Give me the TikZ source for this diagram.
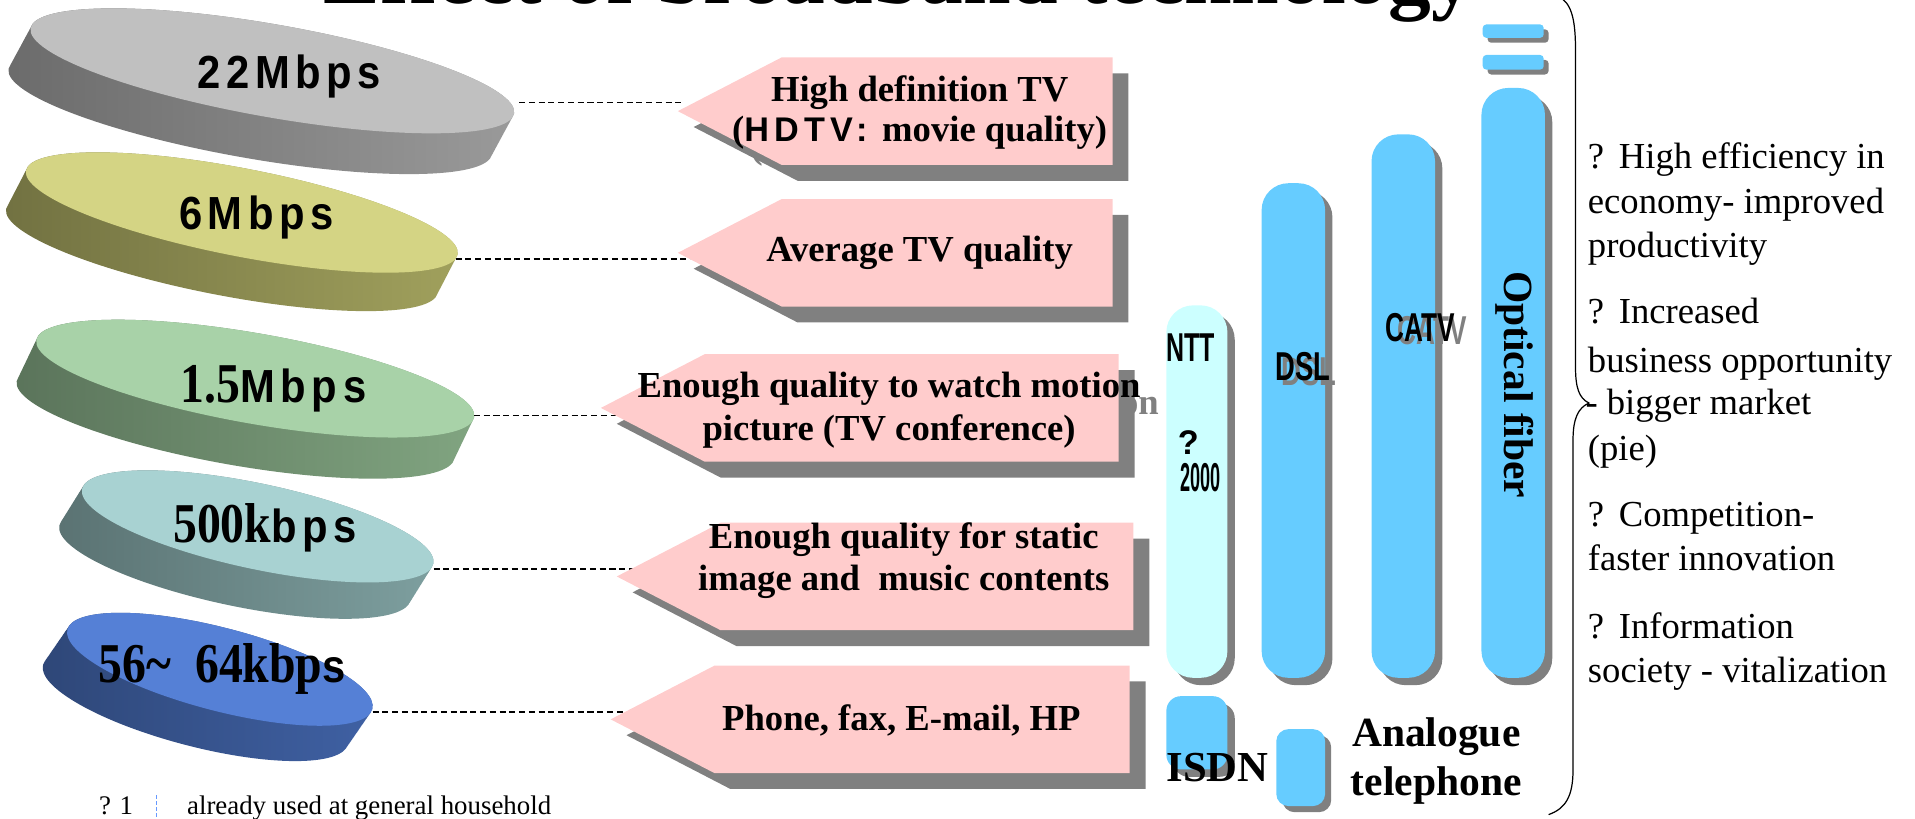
\documentclass[tikz,border=0pt]{standalone}
\usepackage{fontspec}
\usepackage{graphicx}
\setmainfont{Liberation Serif}
\newfontfamily\sansb{Liberation Sans}
\newfontfamily\discsans[FakeStretch=0.9,LetterSpace=12]{Liberation Sans}
\newfontfamily\discserif[FakeStretch=0.85]{Liberation Serif}
\newfontfamily\hdsans[LetterSpace=15]{Liberation Sans}

\definecolor{pinkbox}{HTML}{FFCCCC}
\definecolor{shadowgray}{HTML}{808080}
\definecolor{barblue}{HTML}{66CCFF}
\definecolor{barpale}{HTML}{CCFFFF}
\definecolor{grayT}{HTML}{C0C0C0}
\definecolor{grayS}{HTML}{A2A2A2}
\definecolor{yelT}{HTML}{D4D484}
\definecolor{yelS}{HTML}{AAAA62}
\definecolor{grnT}{HTML}{A8D2A8}
\definecolor{grnS}{HTML}{88AE88}
\definecolor{tealT}{HTML}{A8D2D2}
\definecolor{tealS}{HTML}{86AAAA}
\definecolor{bluT}{HTML}{5580D6}
\definecolor{bluS}{HTML}{4468B0}
\definecolor{footblue}{HTML}{6699FF}

% tilted 3-D disc: centre x, centre y, angle, semi-axes a and b,
% extrusion dx dy (local frame), top colour, side colour
\newcommand{\drawdisc}[9]{%
  \begin{scope}[shift={(#1,#2)},rotate=#3]
    \begin{scope}
      \clip \foreach \k in {0,1,...,24} {({\k/24*(#6)},{\k/24*(#7)}) ellipse [x radius=#4pt,y radius=#5pt]};
      \shade[left color=#9!62!black,right color=#9] ({-(#4)-60},{-(#5)-60}) rectangle ({#4+60},{#5+#7+60});
    \end{scope}
    \fill[#8] (0,0) ellipse [x radius=#4pt,y radius=#5pt];
  \end{scope}}

% left-pointing label box with a drop shadow:
% tip x, tip y, length, text x, text y, text, node name
\newcommand{\pinkarrow}[7]{%
  \fill[shadowgray] ({#1+13},{#2+13}) -- ++(85,-44) -- ++({#3-85},0) -- ++(0,88) -- ++({85-#3},0) -- cycle;
  \node[boxtext,text=shadowgray] at ({#4+15},{#5+14}) {#6};
  \fill[pinkbox] (#1,#2) -- ++(85,-44) -- ++({#3-85},0) -- ++(0,88) -- ++({85-#3},0) -- cycle;
  \node[boxtext] (#7) at (#4,#5) {#6};}

\begin{document}
\begin{tikzpicture}[x=1pt,y=-1pt,
  boxtext/.style={align=center,inner sep=0pt,font=\fontsize{30}{35}\selectfont\bfseries},
  ratelabel/.style={inner sep=0pt,font=\fontsize{38}{40}\selectfont\bfseries},
  link/.style={dashed,dash pattern=on 5pt off 3pt,line width=1.2pt,black},
  benefit/.style={anchor=base west,inner sep=0pt,font=\fontsize{30}{34}\selectfont},
  bartext/.style={inner sep=0pt,font=\fontsize{33}{36}\selectfont\sansb\bfseries}]
\useasboundingbox (0,0) rectangle (1568,670);

% title, running off the top edge
\node[anchor=base west,inner sep=0pt,font=\fontsize{70}{80}\selectfont\bfseries] (title) at (265,3) {Effect of broadband technology};

% bandwidth discs
\drawdisc{223}{58}{-10}{201}{38}{-12}{36}{grayT}{grayS}
\drawdisc{198}{174}{-11}{180}{36}{-10}{34}{yelT}{yelS}
\drawdisc{209}{310}{-10}{182}{37}{-10}{36}{grnT}{grnS}
\drawdisc{211}{431}{-12}{147}{35}{-12}{33}{tealT}{tealS}
\drawdisc{180}{548}{-14.6}{129}{34}{-12}{33}{bluT}{bluS}

\node[ratelabel] (rate1) at (237,63) {\discsans 22Mbps};
\node[ratelabel] (rate2) at (210,178) {\discsans 6Mbps};
\node[ratelabel] (rate3) at (224,318) {{\fontsize{46}{48}\selectfont\discserif 1.5}\discsans Mbps};
\node[ratelabel] (rate4) at (217,432) {{\fontsize{46}{48}\selectfont\discserif 500k}\discsans bps};
\node[ratelabel] (rate5) at (182,548) {{\fontsize{46}{48}\selectfont\discserif 56\textasciitilde\ \ 64kbp}\discsans s};

% dashed leaders from the discs to the labels
\coordinate (d1) at (425,84);  \coordinate (t1) at (560,84);
\coordinate (d2) at (373,212); \coordinate (t2) at (565,212);
\coordinate (d3) at (388,340); \coordinate (t3) at (505,340);
\coordinate (d4) at (355,466); \coordinate (t4) at (520,466);
\coordinate (d5) at (305,583); \coordinate (t5) at (515,583);
\foreach \i in {1,...,5} \draw[link] (d\i) -- (t\i);

% service labels
\pinkarrow{555}{91}{356}{753}{92}{High definition TV\\[-2pt](\hdsans\fontsize{28}{35}\selectfont HDTV: \rmfamily\fontsize{30}{35}\selectfont\bfseries movie quality)}{use1}
\pinkarrow{555}{207}{356}{753}{207}{Average TV quality}{use2}
\pinkarrow{492}{334}{424}{728}{336}{Enough quality to watch motion\\picture (TV conference)}{use3}
\pinkarrow{505}{472}{423}{740}{459}{Enough quality for static\\image and\ \ music contents}{use4}
\pinkarrow{500}{589}{425}{738}{590}{Phone, fax, E-mail, HP}{use5}

% access technology bars
\fill[shadowgray,rounded corners=22pt] (961,256) rectangle (1011,561);
\fill[barpale,rounded corners=22pt] (955,250) rectangle (1005,555);
\fill[shadowgray,rounded corners=22pt] (1039,156) rectangle (1091,561);
\fill[barblue,rounded corners=22pt] (1033,150) rectangle (1085,555);
\fill[shadowgray,rounded corners=22pt] (1129,116) rectangle (1181,561);
\fill[barblue,rounded corners=22pt] (1123,110) rectangle (1175,555);
\fill[shadowgray,rounded corners=22pt] (1219,78) rectangle (1271,561);
\fill[barblue,rounded corners=22pt] (1213,72) rectangle (1265,555);
\fill[shadowgray,rounded corners=3pt] (1218,24) rectangle (1268,35);
\fill[barblue,rounded corners=3pt] (1214,20) rectangle (1264,31);
\fill[shadowgray,rounded corners=3pt] (1218,49) rectangle (1268,61);
\fill[barblue,rounded corners=3pt] (1214,45) rectangle (1264,57);
\fill[shadowgray,rounded corners=12pt] (961,576) rectangle (1011,636);
\fill[barblue,rounded corners=12pt] (955,570) rectangle (1005,630);
\fill[shadowgray,rounded corners=10pt] (1050,602) rectangle (1090,665);
\fill[barblue,rounded corners=10pt] (1045,597) rectangle (1085,660);

\node[bartext] (ntt) at (975,285) {\scalebox{0.62}[1]{NTT}};
\node[inner sep=0pt,font=\fontsize{28}{30}\selectfont\sansb\bfseries] (q) at (973,362) {?};
\node[bartext] (yr) at (983,391) {\scalebox{0.45}[1]{2000}};
\node[bartext,text=shadowgray] at (1072,304) {\scalebox{0.68}[1]{DSL}};
\node[bartext] (dsl) at (1067,300) {\scalebox{0.68}[1]{DSL}};
\node[bartext,text=shadowgray] at (1173,271) {\scalebox{0.65}[1]{CATV}};
\node[bartext] (catv) at (1163,268) {\scalebox{0.65}[1]{CATV}};
\node[inner sep=0pt,rotate=-90,font=\fontsize{34}{38}\selectfont\bfseries] (fiber) at (1240,315) {Optical fiber};
\node[inner sep=0pt,anchor=base,font=\fontsize{35}{38}\selectfont\bfseries] (isdn) at (997,640) {ISDN};
\node[inner sep=0pt,align=center,font=\fontsize{34}{40}\selectfont\bfseries] (analog) at (1176,623) {Analogue\\telephone};

% brace collecting the technologies
\draw[line width=1pt] (1276,-3) .. controls (1286,2) and (1290,14) .. (1290,40)
  -- (1290,300) .. controls (1290,318) and (1293,326) .. (1301,330)
  .. controls (1292,334) and (1288,343) .. (1288,360)
  -- (1288,630) .. controls (1288,652) and (1282,662) .. (1268,667);

% benefits
\node[benefit] (b1) at (1300,138) {?\hspace{12pt}High efficiency in};
\node[benefit] (b2) at (1300,175) {economy- improved};
\node[benefit] (b3) at (1300,211) {productivity};
\node[benefit] (b4) at (1300,265) {?\hspace{12pt}Increased};
\node[benefit] (b5) at (1300,305) {business opportunity};
\node[benefit] (b6) at (1298,339) {- bigger market};
\node[benefit] (b7) at (1300,377) {(pie)};
\node[benefit] (b8) at (1300,431) {?\hspace{12pt}Competition-};
\node[benefit] (b9) at (1300,467) {faster innovation};
\node[benefit] (b10) at (1300,523) {?\hspace{12pt}Information};
\node[benefit] (b11) at (1300,559) {society - vitalization};

% footnote
\node[anchor=base west,inner sep=0pt,font=\fontsize{22}{24}\selectfont] (fnq) at (81,667) {?\hspace{7pt}1};
\coordinate (fa) at (128,651); \coordinate (fb) at (128,672);
\draw[footblue,dash pattern=on 3pt off 2pt,line width=0.8pt] (fa) -- (fb);
\node[anchor=base west,inner sep=0pt,font=\fontsize{22}{24}\selectfont] (fnt) at (153,667) {already used at general household};
\end{tikzpicture}
\end{document}
